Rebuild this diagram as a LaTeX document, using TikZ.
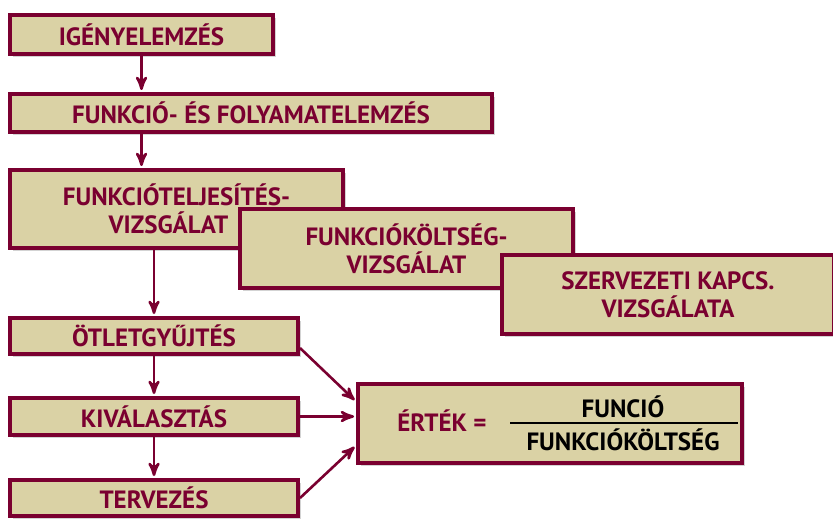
\documentclass[tikz,border=0pt]{standalone}
\usepackage{fontspec}
\setmainfont{PT Sans}
\usetikzlibrary{arrows,shadows}
\definecolor{wine}{RGB}{122,0,48}
\definecolor{sand}{RGB}{218,210,165}
\tikzset{
  stage/.style={draw=wine,fill=sand,line width=2pt,text=wine,align=center,
    font=\bfseries\fontsize{12.5}{14}\selectfont,
    drop shadow={shadow xshift=1.5pt,shadow yshift=-1.5pt,opacity=0.35}},
  plain/.style={font=\bfseries\fontsize{12.5}{14}\selectfont,inner sep=0pt}
}
\begin{document}
\begin{tikzpicture}[x=0.5pt,y=-0.5pt,>=stealth',shorten >=1pt]
      \useasboundingbox (0,0) rectangle (833,519);
      \node[stage,minimum width=131.5pt,minimum height=19.5pt] (ige) at (141.5,34.5) {IGÉNYELEMZÉS};
      \node[stage,minimum width=241pt,minimum height=19pt] (fun) at (251,113) {FUNKCIÓ- ÉS FOLYAMATELEMZÉS};
      \node[stage,minimum width=166.5pt,minimum height=39pt] (telj) at (176.5,209) {FUNKCIÓTELJESÍTÉS-\\VIZSGÁLAT\hspace*{8pt}};
      \node[stage,minimum width=166.5pt,minimum height=39.5pt] (kolt) at (406.5,248.5) {FUNKCIÓKÖLTSÉG-\\VIZSGÁLAT};
      \node[stage,minimum width=166pt,minimum height=39.5pt] (szerv) at (668,294.5) {SZERVEZETI KAPCS.\\VIZSGÁLATA};
      \node[stage,minimum width=144pt,minimum height=18pt] (otlet) at (154,336) {ÖTLETGYŰJTÉS};
      \node[stage,minimum width=144pt,minimum height=18.5pt] (kiv) at (154,416.5) {KIVÁLASZTÁS};
      \node[stage,minimum width=144pt,minimum height=18pt] (terv) at (154,498) {TERVEZÉS};
      \node[stage,minimum width=192pt,minimum height=39.5pt] (ertek) at (550,423.5) {};

      % value formula
      \node[plain,text=wine] (ert) at (442,421) {ÉRTÉK =};
      \node[plain] (szamlalo) at (623,407) {FUNCIÓ};
      \node[plain] (nevezo) at (623,440) {FUNKCIÓKÖLTSÉG};
      \coordinate (tortbal) at (510,423);
      \coordinate (tortjobb) at (740,423);
      \draw[line width=0.6pt] (tortbal) -- (tortjobb);

      \path[->,wine,line width=1.3pt]
      (ige.south) edge (ige.south |- fun.north)
      (ige.south |- fun.south) edge (ige.south |- telj.north)
      (otlet.north |- telj.south) edge (otlet.north)

      (otlet) edge (kiv)
      (kiv) edge (terv)

      ([yshift=-6pt]otlet.east) edge ([yshift=11pt]ertek.west)
      (kiv.east) edge (kiv.east -| ertek.west)
      (terv.east) edge ([yshift=-11pt]ertek.west)
      ;
    \end{tikzpicture}
\end{document}
